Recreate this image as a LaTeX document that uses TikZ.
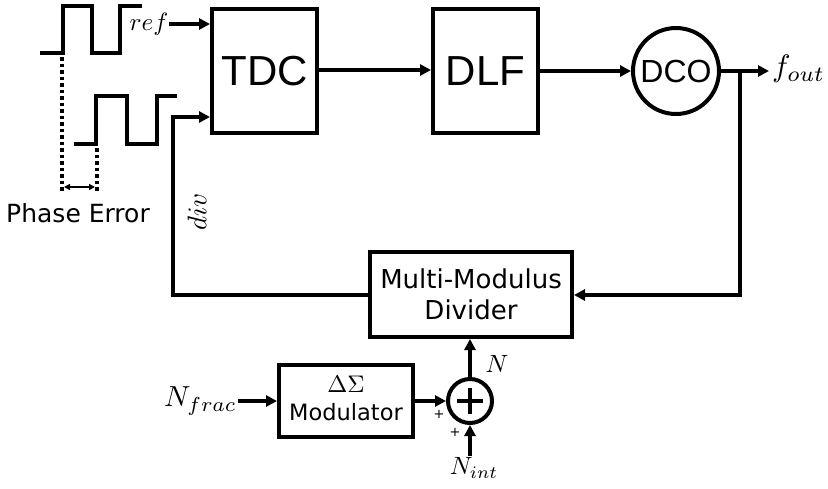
\documentclass[tikz,border=0pt]{standalone}
\usepackage{graphicx}
\usepackage{fontspec}
\setmainfont{DejaVu Sans}
\newfontfamily\arialfont{Liberation Sans}
\usetikzlibrary{arrows.meta}
\newcommand{\mylblmath}[2]{\scalebox{#1}{$#2$}}
\begin{document}
\begin{tikzpicture}[x=1pt,y=-1pt,
  wire/.style={line width=4pt},
  arr/.style={line width=4pt,-{Triangle[length=11pt,width=11pt]}},
  blk/.style={draw,line width=4pt,inner sep=0pt},
  mathlbl/.style={inner sep=1pt}]
\useasboundingbox (0,0) rectangle (828,488);
% blocks
\node[blk,minimum width=105pt,minimum height=124pt] (tdc) at (264.5,71) {\arialfont\fontsize{42}{42}\selectfont TDC};
\node[blk,minimum width=105pt,minimum height=124pt] (dlf) at (485.5,71) {\arialfont\fontsize{42}{42}\selectfont DLF};
\node[blk,circle,minimum size=86pt] (dco) at (676,71) {\arialfont\fontsize{32}{32}\selectfont DCO};
\node[blk,minimum width=202pt,minimum height=85pt,align=center,font=\fontsize{26}{31}\selectfont] (div) at (471,294.5) {Multi-Modulus\\Divider};
\node[blk,minimum width=134pt,minimum height=72pt] (mod) at (346,401) {};
\node (ds) at (346,384) {\scalebox{2.4}{$\Delta\Sigma$}};
\node[font=\fontsize{22.5}{22.5}\selectfont] (modt) at (346,412) {Modulator};
\node[blk,circle,minimum size=44pt] (sum) at (470,401) {};
\draw[line width=4pt] (sum.center) ++(-13,0) -- ++(26,0) (sum.center) ++(0,-13) -- ++(0,26);
% labels
\node[mathlbl] (ref) at (149,24) {\mylblmath{2.5}{ref}};
\node[mathlbl,anchor=west] (fout) at (771,69) {\mylblmath{3.1}{f_{out}}};
\node[mathlbl,rotate=90] (divl) at (197,212) {\mylblmath{2.7}{div}};
\node[mathlbl,anchor=east] (nfrac) at (238,401) {\mylblmath{2.9}{N_{frac}}};
\node[mathlbl] (nl) at (497,364) {\mylblmath{2.5}{N}};
\node[mathlbl] (nint) at (474,468) {\mylblmath{2.5}{N_{int}}};
\node[font=\fontsize{13}{13}\selectfont] (p1) at (439,414) {+};
\node[font=\fontsize{13}{13}\selectfont] (p2) at (455,432) {+};
\node[font=\fontsize{25}{25}\selectfont] (pe) at (78,213) {Phase Error};
% coordinates
\coordinate (tdcin1) at (tdc.west |- 0,24);
\coordinate (tdcin2) at (tdc.west |- 0,117);
\coordinate (br) at (740,71);
\coordinate (outend) at (769,71);
\coordinate (fbcorner) at (740,295);
\coordinate (divcorner) at (173,295);
\coordinate (divtop) at (173,117);
\coordinate (nintbot) at (470,456);
% connectors
\draw[arr] (ref.east) -- (tdcin1);
\draw[arr] (tdc.east |- 0,70) -- (dlf.west |- 0,70);
\draw[arr] (dlf.east |- 0,71) -- (dco.west);
\draw[arr] (dco.east) -- (outend);
\draw[arr] (br) -- (fbcorner) -- (div.east |- fbcorner);
\draw[arr] (div.west |- divcorner) -- (divcorner) -- (divtop) -- (tdcin2);
\draw[arr] (nfrac.east) -- (mod.west);
\draw[arr] (mod.east) -- (sum.west);
\draw[arr] (sum.north) -- (div.south -| sum.north);
\draw[arr] (nintbot) -- (sum.south);
% waveforms
\draw[wire,line join=miter] (40,53) -- (63,53) -- (63,6) -- (92,6) -- (92,53) -- (120,53) -- (120,6) -- (142,6);
\draw[wire,line join=miter] (74,144) -- (96,144) -- (96,96) -- (127,96) -- (127,144) -- (157,144) -- (157,96) -- (177,96);
\draw[line width=4pt,dash pattern=on 3.5pt off 3pt] (62,57) -- (62,193);
\draw[line width=4pt,dash pattern=on 3.5pt off 3pt] (96.5,148) -- (96.5,193);
\draw[line width=1.8pt,{Triangle[length=6pt,width=6pt]}-{Triangle[length=6pt,width=6pt]}] (64,187) -- (95,187);
\end{tikzpicture}
\end{document}
